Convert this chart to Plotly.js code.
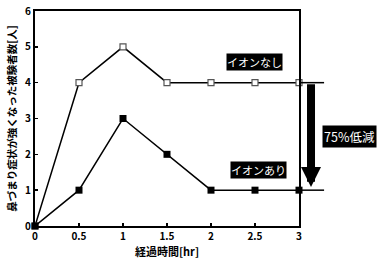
<!DOCTYPE html>
<html><head><meta charset="utf-8">
<script src="https://cdn.plot.ly/plotly-3.0.1.min.js"></script>
<style>html,body{margin:0;padding:0;background:#fff}#c{width:385px;height:270px}</style>
</head><body><div id="c"></div>
<script>
const hours = [0, 0.5, 1, 1.5, 2, 2.5, 3];
const withoutIon = [0, 4, 5, 4, 4, 4, 4];
const withIon = [0, 1, 3, 2, 1, 1, 1];
const xTicks = [0, 0.5, 1, 1.5, 2, 2.5, 3];
const xTickText = ['0', '0.5', '1', '1.5', '2', '2.5', '3'];
const yTicks = [0, 1, 2, 3, 4, 5, 6];
const labelWithout = 'イオンなし';
const labelWith = 'イオンあり';
const reductionText = '75%低減';

const F = '"Noto Sans CJK JP", "Noto Sans", sans-serif';
const yMax = 6;
const lastA = withoutIon[withoutIon.length - 1];
const lastB = withIon[withIon.length - 1];
const pA = lastA / yMax, pB = lastB / yMax;

const traces = [
  {x: hours, y: withoutIon, mode: 'lines+markers', cliponaxis: false,
   line: {color: '#000', width: 1.5},
   marker: {symbol: 'square', size: 6, color: '#fff', line: {color: '#555', width: 1.2}}},
  {x: hours, y: withIon, mode: 'lines+markers', cliponaxis: false,
   line: {color: '#000', width: 1.5},
   marker: {symbol: 'square', size: 7, color: '#000', line: {color: '#000', width: 0}}}
];

const layout = {
  width: 385, height: 270,
  margin: {l: 35, r: 86, t: 11, b: 44},
  paper_bgcolor: '#fff', plot_bgcolor: '#fff',
  showlegend: false,
  font: {family: F, color: '#000', size: 10},
  xaxis: {range: [0, 3], tickvals: xTicks, ticktext: xTickText, ticks: 'inside', ticklen: 3,
    tickwidth: 1.5, tickcolor: '#000', showgrid: false, zeroline: false,
    showline: true, linecolor: '#000', linewidth: 2, mirror: true,
    tickfont: {family: F, size: 10, weight: 'bold'},
    title: {text: '経過時間[hr]', font: {family: F, size: 11, weight: 'bold'}, standoff: 6}},
  yaxis: {range: [0, yMax], tickvals: yTicks, ticks: 'inside', ticklen: 3,
    tickwidth: 1.5, tickcolor: '#000', showgrid: false, zeroline: false,
    showline: true, linecolor: '#000', linewidth: 2, mirror: true,
    tickfont: {family: F, size: 10, weight: 'bold'},
    title: {text: '鼻づまり症状が強くなった被験者数[人]', font: {family: F, size: 10.5, weight: 'bold'}, standoff: 6}},
  shapes: [
    {type: 'line', xref: 'paper', yref: 'paper', x0: 1, x1: 1.095, y0: pA, y1: pA,
     line: {color: '#000', width: 1.5}},
    {type: 'line', xref: 'paper', yref: 'paper', x0: 1, x1: 1.095, y0: pB, y1: pB,
     line: {color: '#000', width: 1.5}}
  ],
  annotations: [
    {xref: 'x', yref: 'y', x: 2.49, y: 4.58, text: labelWithout, showarrow: false,
     xanchor: 'center', yanchor: 'middle',
     bgcolor: '#000', font: {family: F, size: 11, color: '#fff'}, borderpad: 0},
    {xref: 'x', yref: 'y', x: 2.545, y: 1.56, text: labelWith, showarrow: false,
     xanchor: 'center', yanchor: 'middle',
     bgcolor: '#000', font: {family: F, size: 11, color: '#fff'}, borderpad: 0},
    {xref: 'paper', yref: 'paper', x: 1.0455, y: pB + 0.015, ax: 1.0455, ay: pA,
     axref: 'paper', ayref: 'paper', text: '', showarrow: true, arrowhead: 2, arrowsize: 0.5,
     arrowwidth: 8, arrowcolor: '#000'},
    {xref: 'paper', yref: 'paper', x: 1.193, y: 0.414, text: reductionText, showarrow: false,
     xanchor: 'center', yanchor: 'middle',
     bgcolor: '#000', font: {family: F, size: 12.5, color: '#fff'}, borderpad: 1}
  ]
};
Plotly.newPlot('c', traces, layout, {displayModeBar: false, staticPlot: true});
</script></body></html>
